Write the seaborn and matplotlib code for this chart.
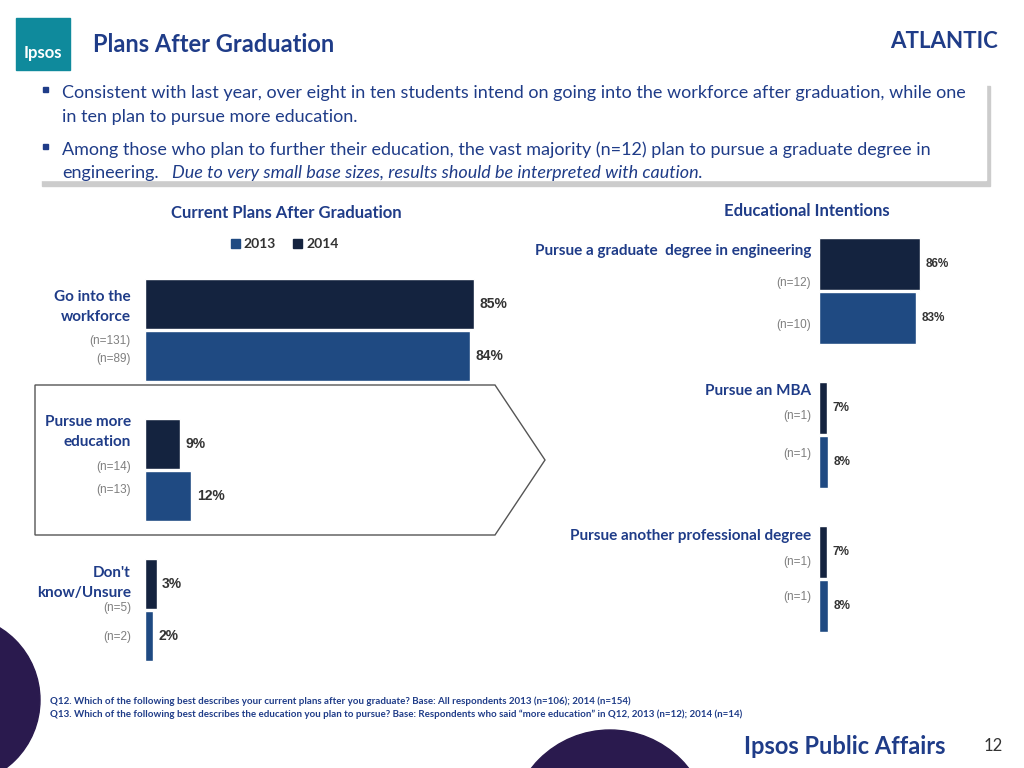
import matplotlib
matplotlib.use("Agg")
import matplotlib.pyplot as plt
import seaborn as sns
import pandas as pd
from matplotlib.patches import Rectangle, Polygon, Circle, Arc

sns.set_theme(style="white")
plt.rcParams['font.family'] = ['Lato', 'DejaVu Sans']

years = ["2014", "2013"]
plan_cats = ["Go into the\nworkforce", "Pursue more\neducation", "Don't\nknow/Unsure"]
plan_2014 = [85, 9, 3]
plan_2013 = [84, 12, 2]
plan_n_2014 = ["(n=131)", "(n=14)", "(n=5)"]
plan_n_2013 = ["(n=89)", "(n=13)", "(n=2)"]
edu_cats = ["Pursue a graduate  degree in engineering", "Pursue an MBA", "Pursue another professional degree"]
edu_2014 = [86, 7, 7]
edu_2013 = [83, 8, 8]
edu_n_2014 = ["(n=12)", "(n=1)", "(n=1)"]
edu_n_2013 = ["(n=10)", "(n=1)", "(n=1)"]

C14 = "#14233f"
C13 = "#1f4a82"
TITLE = "#1f3c88"
GREY = "#7f7f7f"
W, H = 1024, 768

fig = plt.figure(figsize=(10.24, 7.68), dpi=100)
def fx(x): return x / W
def fy(y): return 1 - y / H
def T(x, y, s, **kw): fig.text(fx(x), fy(y), s, **kw)
def axes_px(x0, y0, x1, y1): return fig.add_axes([fx(x0), fy(y1), (x1 - x0) / W, (y1 - y0) / H])

bg = fig.add_axes([0, 0, 1, 1]); bg.set_xlim(0, W); bg.set_ylim(H, 0); bg.axis("off")
bg.add_patch(Circle((-45, 700), 85, color="#2a1a4e", zorder=0))
bg.add_patch(Circle((610, 830), 100, color="#2a1a4e", zorder=0))
bg.add_patch(Arc((700, -700), 1400, 1300, theta1=-80, theta2=-20, color="#cccccc", lw=1.2))
bg.add_patch(Rectangle((16, 18), 54, 52, color="#0f8a9c"))
bg.text(43, 58, "Ipsos", color="white", fontsize=12, fontweight="bold", ha="center")
bg.add_patch(Rectangle((42, 86), 948, 100, color="#cccccc", zorder=1))
bg.add_patch(Rectangle((38, 80), 948, 100, color="white", zorder=2))
bg.add_patch(Polygon([(35, 385), (495, 385), (545, 460), (495, 535), (35, 535)], closed=True,
                     fill=False, edgecolor="#555555", lw=1, zorder=1))
bg.add_patch(Rectangle((43, 87), 5, 5, color=TITLE, zorder=3))
bg.add_patch(Rectangle((43, 144), 5, 5, color=TITLE, zorder=3))

T(93, 45, "Plans After Graduation", color=TITLE, fontsize=17, fontweight="bold", va="center")
T(998, 42, "ATLANTIC", color=TITLE, fontsize=16, fontweight="bold", ha="right", va="center")
bul = dict(fontsize=13, color="#1f3c88", va="center", zorder=3)
T(62, 93, "Consistent with last year, over eight in ten students intend on going into the workforce after graduation, while one", **bul)
T(62, 117, "in ten plan to pursue more education.", **bul)
T(62, 150, "Among those who plan to further their education, the vast majority (n=12) plan to pursue a graduate degree in", **bul)
T(62, 173, "engineering.", **bul)
T(172, 173, "Due to very small base sizes, results should be interpreted with caution.", style="italic", **bul)

T(286, 213, "Current Plans After Graduation", color=TITLE, fontsize=12, fontweight="bold", ha="center", va="center")
T(807, 211, "Educational Intentions", color=TITLE, fontsize=12, fontweight="bold", ha="center", va="center")

df_plan = pd.DataFrame({"cat": plan_cats * 2, "year": [years[0]] * 3 + [years[1]] * 3, "val": plan_2014 + plan_2013})
df_edu = pd.DataFrame({"cat": edu_cats * 2, "year": [years[0]] * 3 + [years[1]] * 3, "val": edu_2014 + edu_2013})
pal = {"2014": C14, "2013": C13}

def draw(ax, df, width, fs):
    sns.barplot(data=df, y="cat", x="val", hue="year", hue_order=years, palette=pal,
                orient="h", width=width, ax=ax, legend=False, saturation=1, gap=0.05)
    ax.set_xlim(0, 100)
    ax.axis("off")
    for c in ax.containers:
        ax.bar_label(c, labels=[f"{v:.0f}%" for v in c.datavalues], padding=4,
                     fontsize=fs, fontweight="bold", color="#333333", family="Liberation Sans")

axL = axes_px(145, 260, 532, 680)
draw(axL, df_plan, 0.75, 10)
axR = axes_px(819, 219, 936, 651)
draw(axR, df_edu, 0.75, 8.5)

bg.add_patch(Rectangle((231, 239), 9, 9, color=C13))
bg.text(243, 244, "2013", fontsize=10, fontweight="bold", color="#333333", va="center")
bg.add_patch(Rectangle((293, 239), 9, 9, color=C14))
bg.text(306, 244, "2014", fontsize=10, fontweight="bold", color="#333333", va="center")

lab = dict(color=TITLE, fontsize=11, fontweight="bold", ha="right", va="center", linespacing=1.5)
T(131, 307, plan_cats[0], **lab)
T(131, 432, plan_cats[1], **lab)
T(131, 583, plan_cats[2], **lab)
nk = dict(color=GREY, fontsize=8.5, ha="right", va="center", family="Liberation Sans")
for s, y in zip(plan_n_2014 + plan_n_2013, [341, 467, 608, 359, 490, 637]):
    T(131, y, s, **nk)
T(811, 251, edu_cats[0], **{**lab, "fontsize": 11})
T(811, 391, edu_cats[1], **{**lab, "fontsize": 11})
T(811, 536, edu_cats[2], **{**lab, "fontsize": 11})
for s, y in zip(edu_n_2014 + edu_n_2013, [283, 416, 562, 325, 454, 597]):
    T(811, y, s, **nk)

fo = dict(color=TITLE, fontsize=7, fontweight="bold", va="center")
T(50, 701, "Q12. Which of the following best describes your current plans after you graduate? Base: All respondents 2013 (n=106); 2014 (n=154)", **fo)
T(50, 714, "Q13. Which of the following best describes the education you plan to pursue? Base: Respondents who said \u201cmore education\u201d in Q12, 2013 (n=12); 2014 (n=14)", **fo)
T(945, 746, "Ipsos Public Affairs", color=TITLE, fontsize=17, fontweight="bold", ha="right", va="center")
T(1003, 746, "12", color="#333333", fontsize=12, ha="right", va="center")

fig.savefig("out.png", dpi=100)
